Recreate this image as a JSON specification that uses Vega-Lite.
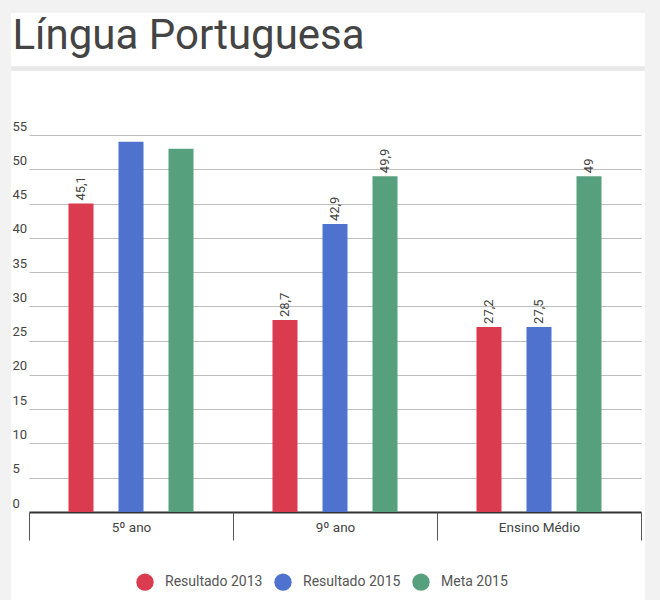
{
  "$schema": "https://vega.github.io/schema/vega-lite/v6.json",
  "width": 634,
  "height": 587,
  "autosize": {"type": "none"},
  "padding": {"left": 11, "top": 13, "right": 15, "bottom": 0},
  "background": "#f2f2f2",
  "config": {
    "view": {"fill": "#ffffff", "stroke": null},
    "font": "Roboto"
  },
  "layer": [
    {
      "data": {"values": [{}]},
      "mark": {"type": "rule", "color": "#e9e9e9", "strokeWidth": 5},
      "encoding": {"y": {"datum": 64.7, "type": "quantitative"}}
    },
    {
      "data": {"name": "notas"},
      "mark": {"type": "bar"},
      "encoding": {
        "x": {
          "field": "etapa", "type": "nominal",
          "sort": ["5º ano", "9º ano", "Ensino Médio"],
          "scale": {"range": [18, 630], "paddingInner": 0, "paddingOuter": 0},
          "axis": {
            "title": null, "orient": "bottom", "offset": -88, "domain": false,
            "ticks": true, "tickBand": "extent", "tickSize": 28, "tickColor": "#555555", "tickWidth": 1,
            "labelPadding": -13, "labelBaseline": "middle", "labelFontSize": 13.5,
            "labelColor": "#444444", "labelAngle": 0, "grid": false, "labelFont": "Roboto"
          }
        },
        "xOffset": {
          "field": "serie", "type": "nominal",
          "sort": ["Resultado 2013", "Resultado 2015", "Meta 2015"],
          "scale": {"paddingInner": 0.5, "paddingOuter": 0.79}
        },
        "y": {
          "field": "nota", "type": "quantitative",
          "scale": {"domain": [0, 55], "range": [499, 122], "nice": false},
          "axis": {
            "title": "Língua Portuguesa",
            "titleAngle": 0, "titleAlign": "left", "titleBaseline": "alphabetic",
            "titleX": 1, "titleY": 35, "titleFontSize": 42, "titleFontWeight": "normal",
            "titleColor": "#444444", "titleFont": "Roboto",
            "values": [0, 5, 10, 15, 20, 25, 30, 35, 40, 45, 50, 55],
            "domain": false, "ticks": false, "tickSize": 0,
            "labelAlign": "left", "labelPadding": -1, "labelBaseline": "alphabetic", "labelOffset": -5,
            "labelFontSize": 13, "labelColor": "#444444", "labelFont": "Roboto",
            "grid": true,
            "gridColor": {"condition": {"test": "datum.value === 0", "value": "#333333"}, "value": "#bebebe"},
            "gridWidth": {"condition": {"test": "datum.value === 0", "value": 2}, "value": 1}
          }
        },
        "color": {
          "field": "serie", "type": "nominal",
          "scale": {"domain": ["Resultado 2013", "Resultado 2015", "Meta 2015"], "range": ["#db3b4f", "#4f72cf", "#57a07d"]},
          "legend": {
            "title": null, "orient": "none", "legendX": 125, "legendY": 560, "direction": "horizontal",
            "symbolType": "circle", "symbolSize": 300, "symbolStrokeWidth": 0, "symbolOpacity": 1,
            "labelFontSize": 14, "labelColor": "#555555", "labelFont": "Roboto", "labelOffset": 11, "columnPadding": 11, "padding": 0
          }
        }
      }
    },
    {
      "data": {"name": "notas"},
      "mark": {"type": "text", "angle": 270, "align": "left", "baseline": "middle", "dx": 3, "fontSize": 13, "color": "#444444", "font": "Roboto"},
      "encoding": {
        "x": {"field": "etapa", "type": "nominal", "sort": ["5º ano", "9º ano", "Ensino Médio"]},
        "xOffset": {"field": "serie", "type": "nominal", "sort": ["Resultado 2013", "Resultado 2015", "Meta 2015"]},
        "y": {"field": "nota", "type": "quantitative"},
        "text": {"field": "rotulo"}
      }
    }
  ],
  "datasets": {
    "notas": [
      {"etapa": "5º ano", "serie": "Resultado 2013", "nota": 45, "rotulo": "45,1"},
      {"etapa": "5º ano", "serie": "Resultado 2015", "nota": 54, "rotulo": ""},
      {"etapa": "5º ano", "serie": "Meta 2015", "nota": 53, "rotulo": ""},
      {"etapa": "9º ano", "serie": "Resultado 2013", "nota": 28, "rotulo": "28,7"},
      {"etapa": "9º ano", "serie": "Resultado 2015", "nota": 42, "rotulo": "42,9"},
      {"etapa": "9º ano", "serie": "Meta 2015", "nota": 49, "rotulo": "49,9"},
      {"etapa": "Ensino Médio", "serie": "Resultado 2013", "nota": 27, "rotulo": "27,2"},
      {"etapa": "Ensino Médio", "serie": "Resultado 2015", "nota": 27, "rotulo": "27,5"},
      {"etapa": "Ensino Médio", "serie": "Meta 2015", "nota": 49, "rotulo": "49"}
    ]
  }
}
